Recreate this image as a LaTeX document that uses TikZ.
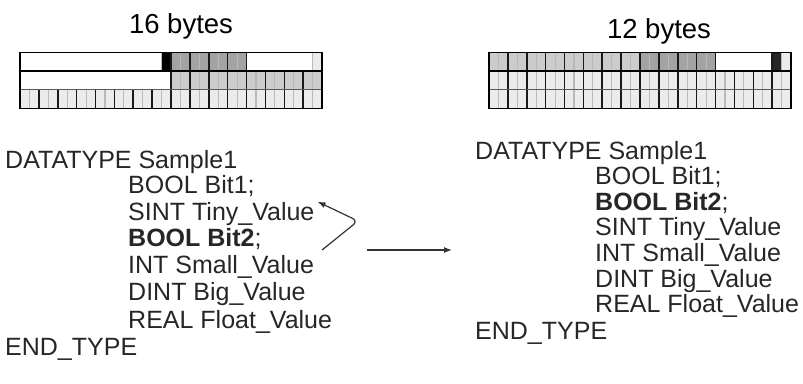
\documentclass[tikz,border=0pt]{standalone}
\usepackage{fontspec}
\setmainfont{Liberation Sans}
\usepackage{xcolor}
\usetikzlibrary{arrows.meta,positioning}

\definecolor{sintgray}{gray}{0.64}
\definecolor{intgray}{gray}{0.80}
\definecolor{dintgray}{gray}{0.92}

\newcommand{\bitw}{9.44}
\newcommand{\rowh}{18.6}
% fill bits #3..#4 of the row whose top is #2, grid starting at x #1
\newcommand{\fillbits}[5]{%
  \fill[#5] ({#1+#3*\bitw},#2) rectangle ({#1+(#4+1)*\bitw},{#2+\rowh});}
% bit separators #3..#4
\newcommand{\tickbits}[4]{%
  \foreach \k in {#3,...,#4}{%
    \ifodd\k \draw[thinbit] ({#1+\k*\bitw},#2) -- ++(0,\rowh);%
    \else \draw[thickbit] ({#1+\k*\bitw},#2) -- ++(0,\rowh);\fi}}

\tikzset{
  codeline/.style={anchor=base west, inner sep=0pt, text=black!85,
    font=\fontsize{25}{30}\selectfont},
  heading/.style={anchor=base, inner sep=0pt, font=\fontsize{27.5}{32}\selectfont},
  thinbit/.style={draw=gray!55, line width=1.1pt},
  thickbit/.style={draw=black!90, line width=1.6pt},
  movearrow/.style={-{Latex[length=8pt,width=6pt]}, line width=1.2pt, black!80}
}

\begin{document}
\begin{tikzpicture}[x=1pt, y=-1pt]
    \useasboundingbox (0,0) rectangle (803,383);

    % 16 bytes
    \node (headL) [heading] at (181,33) {16 bytes};
    \fillbits{20}{52.5}{15}{15}{black}
    \fillbits{20}{52.5}{16}{23}{sintgray}
    \fillbits{20}{52.5}{31}{31}{dintgray}
    \fillbits{20}{71.1}{16}{31}{intgray}
    \fillbits{20}{89.7}{0}{31}{dintgray}
    \tickbits{20}{52.5}{15}{24}
    \tickbits{20}{52.5}{31}{31}
    \tickbits{20}{71.1}{16}{31}
    \tickbits{20}{89.7}{1}{31}
    \draw [line width=1.4pt] (20,71.1) -- ++(302,0);
    \draw [line width=1.2pt, gray!70!black] (20,89.7) -- ++(302,0);
    \draw [line width=1.4pt] (20,52.5) rectangle ++(302,55.8);

    % 12 bytes
    \node (headR) [heading] at (659,38) {12 bytes};
    \fillbits{489}{52.5}{0}{15}{intgray}
    \fillbits{489}{52.5}{16}{23}{sintgray}
    \fillbits{489}{52.5}{30}{30}{black!85}
    \fillbits{489}{52.5}{31}{31}{dintgray}
    \fillbits{489}{71.1}{0}{31}{dintgray}
    \fillbits{489}{89.7}{0}{31}{dintgray}
    \tickbits{489}{52.5}{1}{24}
    \tickbits{489}{52.5}{30}{31}
    \tickbits{489}{71.1}{1}{31}
    \tickbits{489}{89.7}{1}{31}
    \draw [line width=1.4pt] (489,71.1) -- ++(302,0);
    \draw [line width=1.2pt, gray!70!black] (489,89.7) -- ++(302,0);
    \draw [line width=1.4pt] (489,52.5) rectangle ++(302,55.8);

    % declaration before
    \node (declL)  [codeline] at (5,168.5)   {DATATYPE Sample1};
    \node (bitaL)  [codeline] at (128,193.5) {BOOL Bit1;};
    \node (tinyL)  [codeline] at (128,220)   {SINT Tiny\_Value};
    \node (bitbL)  [codeline] at (128,246.5) {\textbf{BOOL Bit2};};
    \node (smallL) [codeline] at (128,273.5) {INT Small\_Value};
    \node (bigL)   [codeline] at (128,300)   {DINT Big\_Value};
    \node (realL)  [codeline] at (128,328.5) {REAL Float\_Value};
    \node (endL)   [codeline] at (5,355.5)   {END\_TYPE};

    % declaration after
    \node (declR)  [codeline] at (475,159)   {DATATYPE Sample1};
    \node (bitaR)  [codeline] at (595,184)   {BOOL Bit1;};
    \node (bitbR)  [codeline] at (595,210)   {\textbf{BOOL Bit2};};
    \node (tinyR)  [codeline] at (595,235.5) {SINT Tiny\_Value};
    \node (smallR) [codeline] at (595,261.5) {INT Small\_Value};
    \node (bigR)   [codeline] at (595,287.5) {DINT Big\_Value};
    \node (realR)  [codeline] at (595,312.5) {REAL Float\_Value};
    \node (endR)   [codeline] at (475,339)   {END\_TYPE};

    % arrows
    \coordinate (swapfrom) at (322,250);
    \coordinate (swapturn) at (358,221);
    \draw [movearrow, rounded corners=6pt] (swapfrom) -- (swapturn) -- ([xshift=3pt]tinyL.north east);
    \coordinate (movefrom) at (367,250);
    \coordinate (moveto) at (452,250);
    \draw [movearrow] (movefrom) -- (moveto);
\end{tikzpicture}
\end{document}
